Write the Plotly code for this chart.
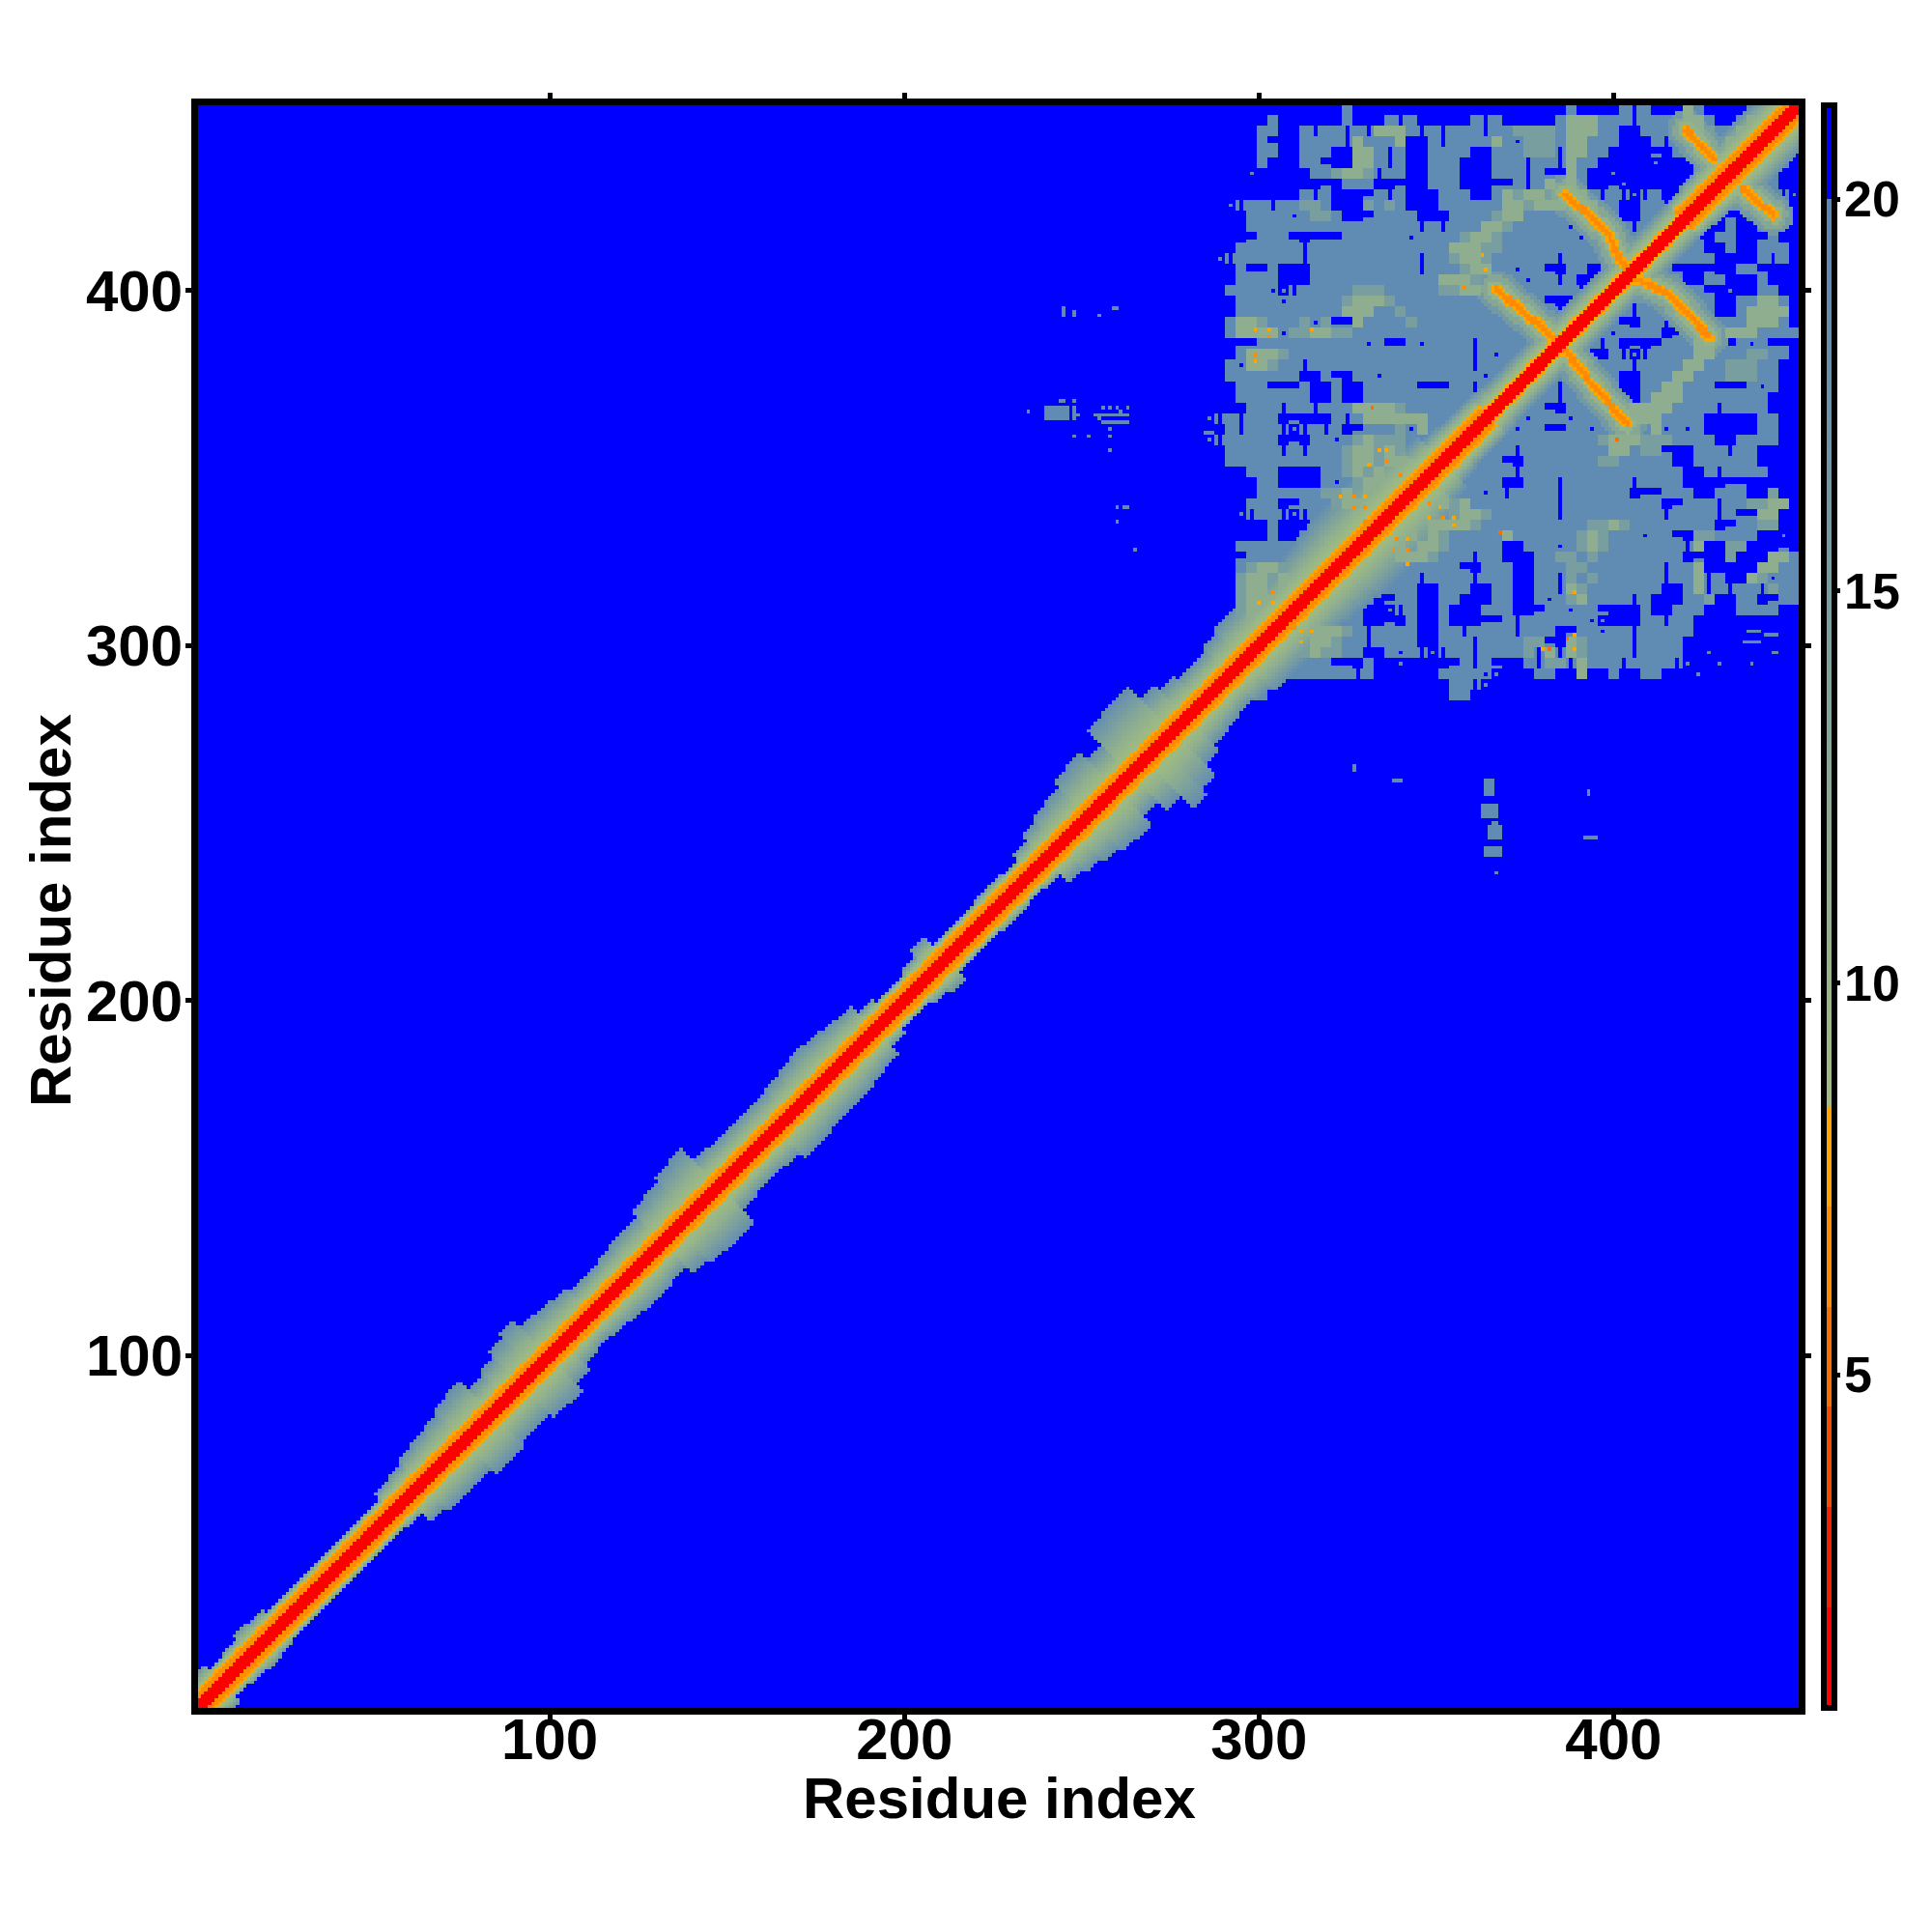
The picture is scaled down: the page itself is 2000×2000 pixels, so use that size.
import numpy as np
import plotly.graph_objects as go

N_RES = 452
TICKS = [100, 200, 300, 400]
CBAR_TICKS = [5, 10, 15, 20]
AXIS_TITLE = "Residue index"

# Reach of the band around the diagonal, read every 4 residues of (x+y)/2
BAND_UPPER = [6,10,7,8,10,9,6,5,5,5,5,6,6,7,10,11,13,14,15,17,18,13,15,18,20,16,15,14,12,12,13,14,14,17,18,20,21,14,13,13,13,13,14,15,16,15,14,13,9,5,7,9,12,6,5,7,8,8,7,10,13,15,16,19,20,16,24,25,25,18,15,13,13,15,
              17,17,17,17,17,18,19,20,20,20,20,20,18,14,11,10,10,10,9,9,9,9,9,9,9,9,9,9,9,9,9,9,10,11,12,13,13,13,13,13]
BAND_LOWER = [6,10,7,8,9,8,6,5,5,5,6,5,5,6,8,13,15,15,15,18,18,16,16,18,19,15,12,11,12,13,14,14,13,17,19,20,20,13,12,12,13,16,16,15,15,15,14,13,9,7,6,9,11,5,5,6,8,8,5,8,13,15,17,19,20,15,20,27,24,18,15,14,13,15,
              17,17,17,17,17,18,19,20,20,20,20,20,18,14,11,10,10,10,9,9,9,9,9,9,9,9,9,9,9,9,9,9,10,11,12,13,13,13,13,13]
BAND_SEGMENT_START = [0, 296, 365, 420]
BAND_RED_REACH = [2, 2, 2, 2]
BAND_ORANGE_REACH = [5, 5, 3, 5]
BAND_ORANGE_VALUES = [6.5, 6.5, 7.8]

# Block at the top right, coarse cells of 3 residues, top row first
# . over 20   s about 19   l about 15   g about 11.5
BLOCK_LEFT = [
".............s..............",
"......s......s...s.s.....s.s",
".....ss..s.ss.s.gggs.s.sss.s",
".....s...ssss.gsssg..s.ssssg",
".....ss..sss..ggs.s..ssss..s",
".....s...ss...ggs.s..sss...s",
"....s.....sslggl.ss..sss...s",
".............sss.....sss....",
".........s.s....s.s...sss..s",
"..s.ss.ssll" "s...lsls...ssssss",
"....ssss.slls...ssss...ssssl",
"....ssssssssssssssss.s.sssgg",
".....sss.....ssssss.sssslggl",
"...ssssss.sssssssssssssgggll",
".s.ssssss.ssssssssss.sslggls",
"...s..s...ssssssssss.ssslggs",
"...ssss...ssssssssssssggglss",
"..ssss.s.ssssslllsssssllggss",
"...ssss.ssssslggglssssssssss",
"...ssssssssssgggsslsssssssss",
"..sgglsssl.l..gsssslssssssss",
"..sgggg.llggllssssssssssssss",
".....ssssssssss.s..s.ssss.ss",
"...sgggl" "sssssssssssssssss" ".s.",
"..s.gglss.sssssssssssssss.ss",
"..sssssss..s..ss.sssssssss.s",
"...sss...s..s..sssss...ss.ss",
"...sssssss..s..ssssssssss.ss",
"....sss.ss.sssgggglsssssssss",
"s.s.sss.....s.sggggggsssssss",
"..s.sss.s.s.s..sssl.gsssssss",
"s.sssss...ss.slglllsssssssss",
"..sssss.s.ssslgglglsssssssss",
"..ssssssssssslgglgglssssssss",
"....sss....sslglglglssssssss",
".....ss....s.slggglsssssssss",
".....ssssssllglggllsssssss.s",
"....sss..ssslggglsssslglgsss",
"...s.ss.s.sssssslsssssslggls",
"......s...sssssssssslggggl" "ss",
"......s..sssssssssgglglsssss",
"...sssssssssssssssglgglsssss",
"....ssssssssssssssggglsss.ss",
"...slgglssssssssssssssss..ss",
"...lgglglsssssssssss.ssss.ss",
"...lgglggsssssssssss..sss..s",
"...lgggglsssssss..ss..ss...s",
"...lggllsssssss..s.s..s...ss",
"..slglsslgglsss....s..s.....",
"..sssssslggggls.ssss..ss.sss",
"..ssssssslgglss.ssss..sss.ss",
"..ssssssslgllss..s.s.s.ss.ss",
"..ssssssssss...s..s.....s.s.",
"ssssssssssssss.s......ssss.s",
"sss.ss.................ss.s.",
"ss..ss.................ss...",
]
BLOCK_RIGHT = [
"......s....s.s...gs....sssss",
".....sgggsss.sss.ggs..sggsss",
"sllllsgggss..sssssglssgggsss",
"s.lllsggsss...s.sssssgsgggss",
"sslll.ggss......sss.sgssggs.",
"ss.ss.gss.....s...sssgsslss.",
"ss.s..gs..s.......ssgsssss..",
".s.sg.gs...s......sgssssss..",
"glgglsggs.s.s.s..sssssssss.s",
"gglgggsggss..ss.ssssssssss..",
"ggsssssssss..sssssss...sss..",
"lsssss.sssss.ssssss..s..ss..",
"sssssss.ssssssssss..ss...s..",
"sssssssssssssssssss..s..sss.",
"sssss.ssssssssssssss....s.s.",
"s.ss..ss..ssssss......ss....",
"ss.ss.s..ssssssss..ss...s...",
"sssssss.sssssssssss..s..ss..",
"ssss...sssss.sssssss..ssggs.",
"sssss.ssssss.sssssss..sgggg.",
"sssssssssss..ss.sssssssgggs.",
"ssssssssss.ssss..ssssgggssss",
"sssssssss.s....sssgg..s.s...",
"ssssssss..s.s.ssssggsssllss.",
"ssssssssssss.ssssggsslllss..",
"sssssssssss..sssggssslllss..",
"sssss.sssss..ssggsss...s.s..",
"sssss.sssss..sgggssssssss...",
"ssss..ssssssggggssss.ssss...",
"ss.sss.ssssggggssss.....ss..",
"s.ss..ss.sssssg.s.s.....ss..",
"ssssssssslggglllssss..ssss..",
"s.ssssssssggsll...sss.ss....",
"..sssssssllsssss..ssssss....",
"s.sssssssssssssss..s.ssss...",
"..sss.ssssss.ssss...........",
".ssss.ssssss...sss..sss..l..",
"sssss.sssssssss..sss.ssllgg.",
"sssss.sssssssss.ssss.s..gg..",
"ssssssssllglssssssss..ssll..",
"gsssssslglsss.ss..llssss..s.",
"..sss.slglsssssss.g..ll.....",
"...ssllslssssssss....l...ggs",
"s..sssllsssssss.ssg.....ggss",
"s..ss.lslssssss.ssg.s..gl.ss",
"s..ss.glsssssss..sg.s.ss.lss",
"s..s.slgssss.s...ssl..ss..ss",
"s...ss.ss....s..sss...ssss..",
"s.ssssss.s...ss.ss..........",
"s.sss..ss.ss.sssss..........",
"ssll..glssss.ssss...........",
"ssl.g.glssss.ssss..s........",
"..s.ll.gsss.ssss.s..s..s....",
"...ss..g..s..ss...s.........",
"............................",
"............................",
]
BLOCK_FIRST_X = 285
BLOCK_TOP_Y = 452
BLOCK_CELL = 3
LEVEL_VALUES = {".": 21.0, "s": 19.0, "l": 15.0, "g": 11.5}

# Isolated patches outside the block: x0, x1, y0, y1
PATCH_X0 = [245,248,255,259,244,248,235,240,248,249,256,258,260,263,254,255,256,261,248,252,258,258,258,260,262,260,265,
            364,363,365,364,367,366,393,392,338,327,438,443,437,445]
PATCH_X1 = [245,248,255,260,245,248,235,246,248,249,256,258,260,263,263,255,263,261,248,252,258,258,258,260,263,260,265,
            366,367,368,368,367,367,393,395,340,327,441,446,441,446]
PATCH_Y0 = [393,393,393,395,369,369,366,364,364,365,367,367,367,367,365,364,363,366,359,359,359,361,355,339,339,335,327,
            258,252,246,241,236,250,258,246,262,265,304,303,301,298]
PATCH_Y1 = [395,394,393,395,369,369,366,367,367,365,367,367,367,367,365,364,363,366,359,359,359,361,355,339,339,335,327,
            262,255,249,243,236,250,259,246,262,266,304,303,301,298]

# Anti-diagonal contact lines, residue coordinates of their bends
LINE_A_X = [420.7, 428.4]
LINE_A_Y = [445.3, 436.7]
LINE_B_X = [436.5, 445.2]
LINE_B_Y = [428.5, 421.3]
LINE_C_X = [386.3, 398.5, 401.7, 404.0]
LINE_C_Y = [427.2, 416.3, 409.1, 405.9]
LINE_D_X = [405.7, 415.7, 427.0]
LINE_D_Y = [403.6, 399.1, 386.9]
LINE_E_X = [366.8, 383.6, 385.0]
LINE_E_Y = [400.5, 386.4, 384.6]
LINE_F_X = [386.7, 394.0, 403.9]
LINE_F_Y = [382.8, 373.7, 362.4]
LINE_REACH = [0.8, 1.4, 2.5, 4.0, 5.5]
LINE_VALUE = [6.6, 7.8, 10.5, 13.0, 16.0]

# Single close contacts
SPOT_X = [299,303,315,303,299,299,332,358,363,364,334,336,336,331,340,340,323,327,330,327,330,330,348,348,352,355,355,351,339,342,338,342,342,335,304,300,304,310,312,315,312,368,401,387,389,382,380,389,389]
SPOT_Y = [389,389,389,387,382,380,367,401,410,406,355,355,352,351,348,345,342,342,342,339,339,335,340,336,336,336,334,339,330,330,327,327,323,330,312,312,315,305,304,304,301,332,358,302,303,299,299,299,315]
SPOT_Z = [7.6,7.6,7.8,6.5,6.0,7.8,5.8,6.5,7.6,7.8,7.8,7.8,6.6,7.8,6.5,7.6,7.8,6.5,7.8,6.5,6.5,6.5,6.6,7.6,6.6,7.8,7.6,7.8,6.5,7.8,6.5,6.5,7.8,7.6,7.6,7.8,6.6,6.5,7.6,7.6,7.6,5.8,5.0,5.0,7.8,5.0,7.8,7.8,7.8]

# Colour classes of the key
COLOUR_BREAKS = [0.75, 2.03, 3.31, 4.59, 5.87, 7.15, 8.43, 20.0, 21.2]
COLOURS = ["#ff0000", "#f52000", "#f54a00", "#fa6e00", "#ff8c00", "#ffa500", "#a2bd80", "#5a86b8", "#0000ff"]

# ---------------------------------------------------------------------
res = np.arange(1, N_RES + 1)
X, Y = np.meshgrid(res, res)
diff = Y - X
reach = np.abs(diff)
mid = (X + Y) // 2
bins = np.minimum(mid // 4, len(BAND_UPPER) - 1)
seg = np.searchsorted(BAND_SEGMENT_START, mid, side="right") - 1
red = np.array(BAND_RED_REACH)[seg]
orange = np.array(BAND_ORANGE_REACH)[seg]
width = np.where(diff >= 0, np.array(BAND_UPPER)[bins], np.array(BAND_LOWER)[bins])
width = np.maximum(width, orange + 2)

z = np.full(X.shape, 21.0)
span = np.maximum(width - orange, 1)
fade = 9.0 + 10.0 * np.clip((reach - orange - 1) / span, 0, 1) ** 1.2
z = np.where(reach <= width, fade, z)
flank = np.array(BAND_ORANGE_VALUES)[np.clip(2 - (orange - reach), 0, 2)]
z = np.where(reach <= orange, flank, z)
z = np.where(reach <= red, 1.5, z)

rows = [(a + b).ljust(56, ".")[:56] for a, b in zip(BLOCK_LEFT, BLOCK_RIGHT)]
def is_blue(t, c):
    if t < 0 or t >= len(rows) or c < 0 or c >= 56:
        return True
    return rows[t][c] == "."

for t, row in enumerate(rows):
    for c, ch in enumerate(row):
        x0 = BLOCK_FIRST_X + BLOCK_CELL * c
        y1 = BLOCK_TOP_Y - BLOCK_CELL * t
        ix0, ix1 = x0 - 1, min(x0 + BLOCK_CELL - 1, N_RES)
        iy0, iy1 = y1 - BLOCK_CELL, y1
        horiz = is_blue(t, c - 1) or is_blue(t, c + 1)
        vert = is_blue(t - 1, c) or is_blue(t + 1, c)
        patch = np.full((iy1 - iy0, ix1 - ix0), LEVEL_VALUES[ch])
        if ch == ".":
            # small holes are thinner than a whole coarse cell
            patch[:] = 19.0
            xs = slice(None) if horiz else slice(1, 2)
            ys = slice(None) if vert else (slice(1, 3) if horiz else slice(1, 2))
            patch[ys, xs] = 21.0
        elif all(is_blue(t + a, c + b) for a, b in [(1, 0), (-1, 0), (0, 1), (0, -1)]):
            # stray specks in the blue area
            patch[:] = 21.0
            patch[1, 1] = LEVEL_VALUES[ch]
        z[iy0:iy1, ix0:ix1] = np.minimum(z[iy0:iy1, ix0:ix1], patch)

for x0, x1, y0, y1 in zip(PATCH_X0, PATCH_X1, PATCH_Y0, PATCH_Y1):
    z[y0 - 1:y1, x0 - 1:x1] = np.minimum(z[y0 - 1:y1, x0 - 1:x1], 19.0)

for lx, ly in [(LINE_A_X, LINE_A_Y), (LINE_B_X, LINE_B_Y), (LINE_C_X, LINE_C_Y),
               (LINE_D_X, LINE_D_Y), (LINE_E_X, LINE_E_Y), (LINE_F_X, LINE_F_Y)]:
    for k in range(len(lx) - 1):
        ax, ay, bx, by = lx[k], ly[k], lx[k + 1], ly[k + 1]
        dx, dy = bx - ax, by - ay
        u = np.clip(((X - ax) * dx + (Y - ay) * dy) / (dx * dx + dy * dy), 0, 1)
        dist = np.hypot(X - ax - u * dx, Y - ay - u * dy)
        for r, v in reversed(list(zip(LINE_REACH, LINE_VALUE))):
            z = np.where(dist <= r, np.minimum(z, v), z)

for sx, sy, v in zip(SPOT_X, SPOT_Y, SPOT_Z):
    z[sy - 1, sx - 1] = min(z[sy - 1, sx - 1], v)

ZMIN, ZMAX = COLOUR_BREAKS[0], COLOUR_BREAKS[-1]
def frac(v):
    return (v - ZMIN) / (ZMAX - ZMIN)
scale = []
for k in range(6):
    scale.append([frac(COLOUR_BREAKS[k]), COLOURS[k]])
    scale.append([frac(COLOUR_BREAKS[k + 1]), COLOURS[k]])
scale.append([frac(COLOUR_BREAKS[6]), COLOURS[6]])
scale.append([frac(COLOUR_BREAKS[7]), COLOURS[7]])
scale.append([frac(COLOUR_BREAKS[7]), COLOURS[8]])
scale.append([1.0, COLOURS[8]])

L, R, T, B = 197, 146, 101, 240
PW, PH = 2000 - L - R, 2000 - T - B

FONT = "Liberation Sans"
fig = go.Figure(go.Heatmap(
    x=res, y=res, z=np.round(z, 2).tolist(), zmin=ZMIN, zmax=ZMAX, colorscale=scale,
    hoverinfo="skip",
    colorbar=dict(
        thickness=11, lenmode="fraction", len=1.0, y=0.5, yanchor="middle", ypad=0,
        x=(1880 - L) / PW, xanchor="left", xpad=0, outlinecolor="black", outlinewidth=6,
        ticks="outside", ticklen=3, tickwidth=5, tickcolor="black",
        tickvals=CBAR_TICKS, showticklabels=False,
    ),
))
axis = dict(
    tickmode="array", tickvals=TICKS, ticktext=[f"<b>{v}</b>" for v in TICKS],
    ticks="outside", ticklen=6, tickwidth=5, tickcolor="black",
    showline=True, linecolor="black", linewidth=7, mirror="ticks",
    showgrid=False, zeroline=False, range=[0.8, 452.2],
    tickfont=dict(family=FONT, size=60, color="black"),
)
fig.update_xaxes(**axis, ticklabelstandoff=-32)
fig.update_yaxes(**axis, ticklabelstandoff=-9)
title_font = dict(family=FONT, size=60, color="black")
notes = [
    dict(text=f"<b>{AXIS_TITLE}</b>", xref="paper", yref="paper",
         x=(1026 - L) / PW, y=-(1853 - (2000 - B)) / PH, xanchor="center", yanchor="middle",
         showarrow=False, font=title_font),
    dict(text=f"<b>{AXIS_TITLE}</b>", xref="paper", yref="paper",
         x=-(L - 45) / PW, y=((2000 - B) - 935) / PH, xanchor="center", yanchor="middle",
         textangle=-90, showarrow=False, font=title_font),
]
for v in CBAR_TICKS:
    notes.append(dict(text=f"<b>{v}</b>", xref="paper", yref="paper", x=(1899 - L) / PW, y=frac(v),
                      xanchor="left", yanchor="middle", showarrow=False,
                      font=dict(family=FONT, size=52, color="black")))
fig.update_layout(
    width=2000, height=2000, autosize=False, paper_bgcolor="white", plot_bgcolor="white",
    margin=dict(l=L, r=R, t=T, b=B, pad=0),
    font=dict(family=FONT),
    annotations=notes,
)
fig.write_html("out.html")
